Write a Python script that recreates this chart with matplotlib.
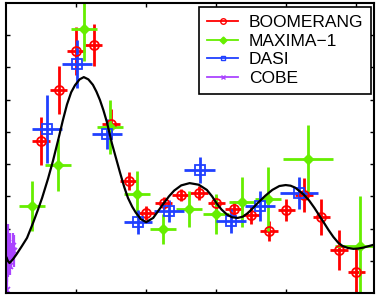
import matplotlib
matplotlib.use('Agg')
import matplotlib.pyplot as plt
from matplotlib.lines import Line2D

plt.rcParams['font.family'] = ['Liberation Sans', 'DejaVu Sans']

# BOOMERANG band powers (l, dT in uK, error)
boom_l = [100, 150, 200, 250, 300, 350, 400, 450, 500, 550, 600, 650, 700, 750, 800, 850, 900, 950, 1000]
boom_y = [47.2, 63.0, 75.1, 77.0, 52.5, 34.8, 24.8, 27.9, 30.4, 31.0, 27.9, 26.1, 24.2, 19.2, 25.8, 30.4, 23.6, 13.3, 6.5]
boom_err = [7.4, 7.4, 7.4, 6.5, 4.7, 2.8, 2.2, 1.9, 1.9, 2.2, 2.2, 2.5, 2.8, 3.1, 3.4, 5.3, 5.6, 6.2, 7.5]
boom_dl = [25] * 19

# MAXIMA-1
max_l = [74, 148, 223, 298, 373, 448, 523, 598, 673, 748, 861, 1011]
max_y = [27.0, 39.7, 81.9, 51.5, 30.7, 19.9, 26.1, 24.5, 28.2, 29.2, 41.6, 14.6]
max_err = [7.8, 8.1, 9.9, 8.5, 7.1, 4.7, 5.6, 6.2, 7.8, 9.9, 10.6, 15.5]
max_dl = [37, 37, 37, 37, 37, 37, 37, 37, 37, 37, 72, 72]

# DASI
dasi_l = [118, 203, 289, 377, 465, 553, 641, 725, 837]
dasi_y = [50.9, 71.1, 49.4, 22.0, 25.5, 38.2, 22.4, 27.0, 31.0]
dasi_err = [10.6, 7.4, 4.7, 3.7, 3.4, 4.0, 3.7, 4.7, 5.0]
dasi_dl = [43, 43, 43, 40, 43, 44, 43, 43, 54]

# COBE
cobe_l = [2, 3, 4, 5, 6, 8, 10, 12, 15, 19, 24]
cobe_y = [1.0, 9.5, 12.0, 15.5, 9.0, 10.5, 13.5, 8.5, 11.5, 14.5, 13.0]
cobe_err = [4.0, 6.0, 5.0, 6.0, 4.0, 4.0, 5.0, 3.0, 4.0, 4.0, 5.0]

# theory curve
th_l = [2, 5, 10, 20, 30, 45, 60, 77, 90, 103, 120, 134, 150, 162, 174, 186, 197, 210, 222, 235,
        248, 258, 268, 278, 288, 302, 314, 325, 337, 348, 360, 370, 385, 400, 420, 447, 465, 480,
        500, 524, 550, 573, 588, 601, 615, 630, 645, 661, 676, 690, 705, 718, 740, 760, 780, 798,
        812, 825, 849, 865, 880, 893, 906, 920, 934, 948, 960, 975, 991, 1005, 1020, 1050]
th_y = [10.9, 10.0, 9.3, 10.5, 12.0, 14.5, 17.1, 21.7, 25.5, 29.5, 35.5, 41.0, 48.0, 53.5, 58.5, 62.3,
        64.5, 66.3, 67.0, 66.3, 64.6, 62.5, 59.9, 56.7, 53.0, 46.5, 41.8, 37.5, 33.0, 29.5, 26.8,
        25.0, 22.9, 22.0, 23.3, 27.4, 30.0, 31.8, 33.4, 34.1, 33.6, 32.0, 30.0, 27.8, 25.9, 24.4,
        23.5, 23.3, 23.7, 24.8, 26.4, 27.9, 30.2, 32.0, 33.2, 33.5, 33.3, 32.7, 30.6, 28.7, 26.4,
        24.2, 22.0, 19.6, 17.4, 15.6, 14.6, 14.0, 13.7, 13.8, 14.1, 15.0]

RED = '#ff0000'
GREEN = '#66ee00'
BLUE = '#2040ff'
PURPLE = '#aa44ff'

fig = plt.figure(figsize=(3.82, 3.01), dpi=100)
ax = fig.add_axes([6/382, 8/301, 368/382, 290/301])

ax.errorbar(boom_l, boom_y, yerr=boom_err, xerr=boom_dl, fmt='o', color=RED, mfc='none',
            mec=RED, ms=6.5, mew=1.3, elinewidth=2, capsize=0)
ax.errorbar(max_l, max_y, yerr=max_err, xerr=max_dl, fmt='D', color=GREEN, mfc=GREEN,
            mec=GREEN, ms=5.5, elinewidth=2, capsize=0)
ax.errorbar(dasi_l, dasi_y, yerr=dasi_err, xerr=dasi_dl, fmt='s', color=BLUE, mfc='none',
            mec=BLUE, ms=6.5, mew=1.3, elinewidth=2, capsize=0)
ax.errorbar(cobe_l, cobe_y, yerr=cobe_err, fmt='x', color=PURPLE, ms=4, mew=1.2,
            elinewidth=1.6, capsize=0)
ax.plot(th_l, th_y, color='black', lw=1.6, zorder=5)

ax.set_xlim(0, 1050)
ax.set_ylim(0, 90)
ax.set_xticks([200, 400, 600, 800, 1000])
ax.set_yticks(range(10, 90, 10))
ax.tick_params(direction='in', length=3, width=1, top=True, right=True,
               labelbottom=False, labelleft=False)
for s in ax.spines.values():
    s.set_linewidth(1.5)

handles = [
    Line2D([], [], color=RED, marker='o', mfc='none', ms=4, lw=1.3),
    Line2D([], [], color=GREEN, marker='D', ms=3.5, lw=1.3),
    Line2D([], [], color=BLUE, marker='s', mfc='none', ms=3.5, lw=1.3),
    Line2D([], [], color=PURPLE, marker='x', ms=3, lw=1.3),
]
leg = ax.legend(handles, ['BOOMERANG', 'MAXIMA\u22121', 'DASI', 'COBE'], loc='upper right',
                bbox_to_anchor=(0.992, 0.986), borderaxespad=0, fontsize=12.5, fancybox=False,
                framealpha=1, edgecolor='black', handlelength=1.8, handletextpad=0.6,
                labelspacing=0.2, borderpad=0.45)
leg.get_frame().set_linewidth(1.2)
leg.set_zorder(10)

plt.savefig('out.png', dpi=100)
